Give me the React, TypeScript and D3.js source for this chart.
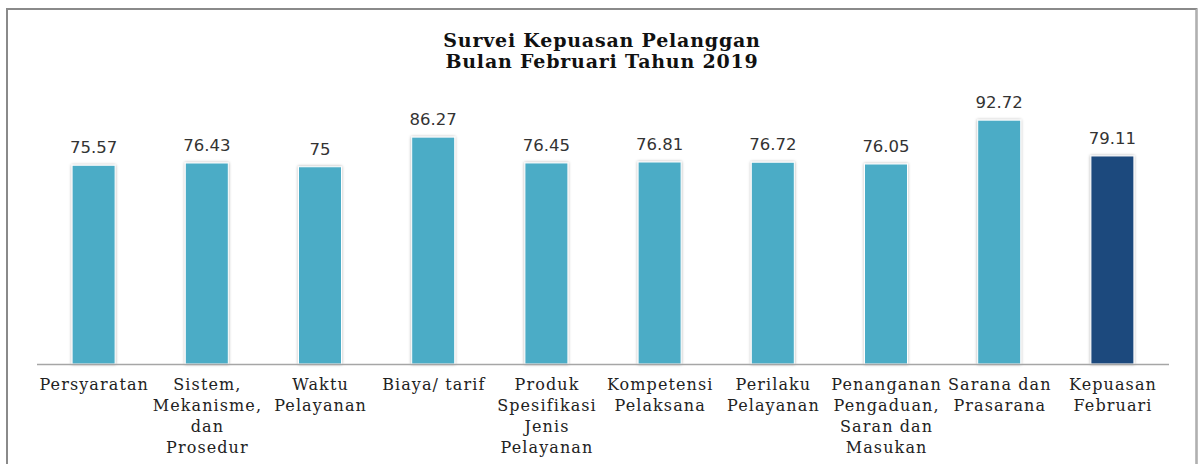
import React from "react";
import * as d3 from "d3";

const titleLines = ["Survei Kepuasan Pelanggan", "Bulan Februari Tahun 2019"];
const categories = [
  ["Persyaratan"],
  ["Sistem,", "Mekanisme,", "dan", "Prosedur"],
  ["Waktu", "Pelayanan"],
  ["Biaya/ tarif"],
  ["Produk", "Spesifikasi", "Jenis", "Pelayanan"],
  ["Kompetensi", "Pelaksana"],
  ["Perilaku", "Pelayanan"],
  ["Penanganan", "Pengaduan,", "Saran dan", "Masukan"],
  ["Sarana dan", "Prasarana"],
  ["Kepuasan", "Februari"],
];
const valueLabels = ["75.57", "76.43", "75", "86.27", "76.45", "76.81", "76.72", "76.05", "92.72", "79.11"];
const values = valueLabels.map(Number);
const highlight = [false, false, false, false, false, false, false, false, false, true];

const W = 1198;
const H = 464;
const left = 37;
const right = 1169;
const baseY = 364;
const topY = 101;

export default function App() {
  const x = d3
    .scaleBand<number>()
    .domain(d3.range(values.length))
    .range([left, right])
    .paddingInner(0.62)
    .paddingOuter(0.31);
  const y = d3.scaleLinear().domain([0, 100]).range([baseY, topY]);
  const bw = x.bandwidth();
  return (
    <div style={{ position: "fixed", left: 0, top: 0 }}>
      <svg width={W} height={H} style={{ display: "block", background: "#fff" }}>
        <defs>
          <filter id="sh" x="-20%" y="-5%" width="140%" height="110%">
            <feDropShadow dx="0" dy="0" stdDeviation="1.6" floodColor="#000" floodOpacity="0.35" />
          </filter>
        </defs>
        <rect x={7} y={9} width={1189.5} height={470} fill="#fff" stroke="#8a8a8a" strokeWidth={2} />
        <line x1={1196.5} x2={1196.5} y1={9} y2={H} stroke="#b0b0b0" strokeWidth={1.5} />
        {titleLines.map((t, i) => (
          <text
            key={t}
            x={602}
            y={47 + i * 21}
            textAnchor="middle"
            fontFamily="'DejaVu Serif', serif"
            fontWeight="bold"
            fontSize={19}
            letterSpacing={0.8}
            fill="#111"
          >
            {t}
          </text>
        ))}
        {values.map((v, i) => (
          <rect
            key={"b" + i}
            x={x(i)!}
            y={y(v)}
            width={bw}
            height={baseY - y(v)}
            fill={highlight[i] ? "#1F497D" : "#4BACC6"}
            stroke="#fff"
            strokeWidth={1}
            filter="url(#sh)"
          />
        ))}
        <line x1={left} x2={right} y1={baseY + 0.5} y2={baseY + 0.5} stroke="#a6a6a6" strokeWidth={1.5} />
        {values.map((v, i) => (
          <text
            key={"v" + i}
            x={x(i)! + bw / 2}
            y={y(v) - 12}
            textAnchor="middle"
            fontFamily="'DejaVu Sans', sans-serif"
            fontSize={16.5}
            fill="#333"
          >
            {valueLabels[i]}
          </text>
        ))}
        {categories.map((lines, i) => (
          <text
            key={"c" + i}
            textAnchor="middle"
            fontFamily="'DejaVu Serif', serif"
            fontSize={16}
            letterSpacing={1.1}
            fill="#222"
          >
            {lines.map((l, j) => (
              <tspan key={j} x={x(i)! + bw / 2 + 0.6} y={390 + j * 21}>
                {l}
              </tspan>
            ))}
          </text>
        ))}
      </svg>
    </div>
  );
}
